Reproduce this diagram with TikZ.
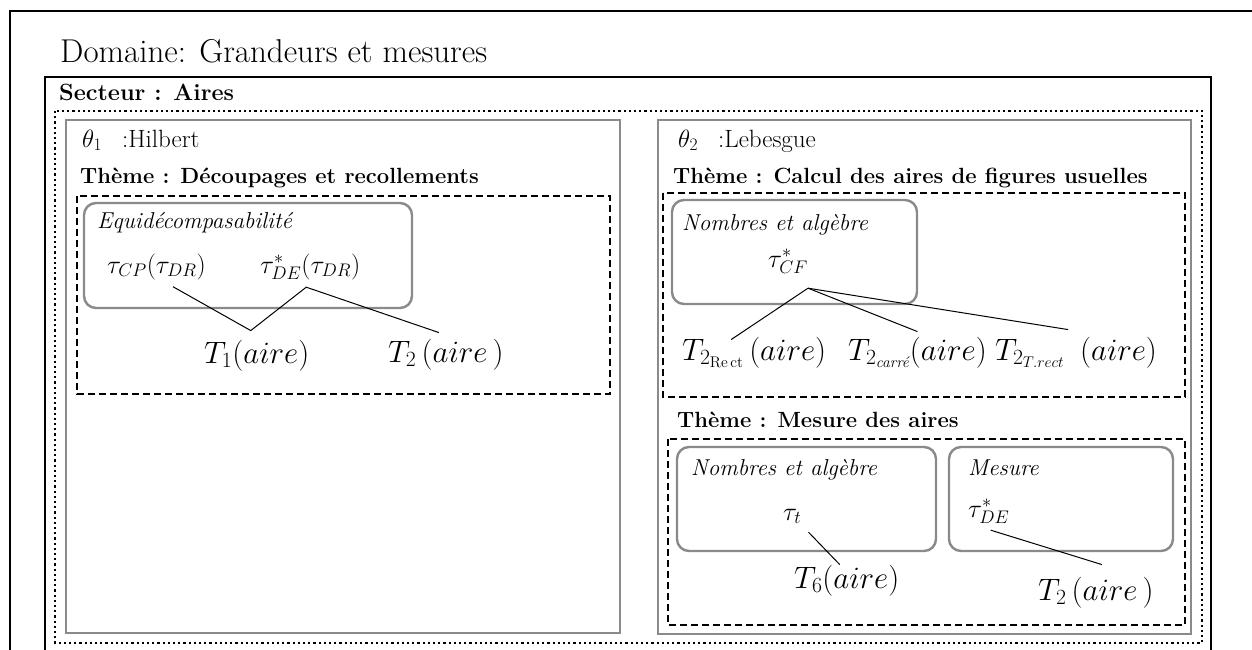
\documentclass[tikz,border=0pt]{standalone}
\usepackage{fix-cm}
\usepackage{amsmath}
\usepackage{xcolor}
\usepackage{tikz}
\definecolor{frameGray}{HTML}{8A8A8A}

\begin{document}
\begin{tikzpicture}[x=1pt, y=-1pt,
    blackFrame/.style={line width=2pt},
    dotFrame/.style={line width=2.2pt, dash pattern=on 2.2pt off 3pt},
    grayPanel/.style={frameGray, line width=2.8pt},
    dashBox/.style={line width=2.4pt, dash pattern=on 7pt off 4pt},
    roundBox/.style={frameGray, line width=2.4pt, rounded corners=12pt},
    lab/.style={inner sep=0pt, anchor=base west},
    titleFont/.style={font=\fontsize{33}{40}\selectfont},
    headFont/.style={font=\bfseries\fontsize{23.5}{28}\selectfont},
    themeFont/.style={font=\bfseries\fontsize{22}{26}\selectfont},
    thetaFont/.style={font=\fontsize{25}{30}\selectfont},
    catFont/.style={font=\itshape\fontsize{23}{27}\selectfont},
    tauFont/.style={font=\fontsize{26}{31}\selectfont},
    bigFont/.style={font=\fontsize{31}{37}\selectfont},
    link/.style={line width=1pt}]

    \clip (0,0) rectangle (1252,650);
    \fill[white] (0,0) rectangle (1252,650);

    % frames
    \draw[blackFrame] (10,11) rectangle (1280,680);
    \draw[blackFrame, line width=2.5pt] (45,77) rectangle (1211,680);
    \draw[dotFrame] (55,111) rectangle (1202,643);
    \draw[grayPanel] (66,120) rectangle (620,633);
    \draw[grayPanel] (658,120) rectangle (1191,634);

    \draw[dashBox] (77,196) rectangle (610,394);
    \draw[dashBox] (663,193) rectangle (1185,397);
    \draw[dashBox] (668,439) rectangle (1185,625);

    \draw[roundBox] (84,203) rectangle (412,308);
    \draw[roundBox] (672,200) rectangle (917,304);
    \draw[roundBox] (677,447) rectangle (936,551);
    \draw[roundBox] (949,447) rectangle (1173,551);

    % headings
    \node[lab, titleFont] (domaine) at (60,63) {Domaine: Grandeurs et mesures};
    \node[lab, headFont] (secteur) at (59,101) {Secteur : Aires};
    \node[lab, thetaFont] (hilbert) at (82,147) {$\theta_1$\hspace{20pt}:Hilbert};
    \node[lab, thetaFont] (lebesgue) at (678,147) {$\theta_2$\hspace{20pt}:Lebesgue};
    \node[lab, themeFont] (themeA) at (80,183) {Thème : Découpages et recollements};
    \node[lab, themeFont] (themeB) at (673,183) {Thème : Calcul des aires de figures usuelles};
    \node[lab, themeFont] (themeC) at (677,427) {Thème : Mesure des aires};

    % left panel
    \node[lab, catFont] (equi) at (97,228) {Equidécompasabilité};
    \node[lab, tauFont] (tcp) at (107,273) {$\tau_{CP}(\tau_{DR})$};
    \node[lab, tauFont] (tde) at (260,273) {$\tau^{*}_{DE}(\tau_{DR})$};
    \node[lab, bigFont] (tA) at (204,363) {$T_1(aire)$};
    \node[lab, bigFont] (tB) at (388,362) {$T_2\,(aire\,)$};

    \draw[link] ([xshift=-33pt,yshift=-7pt]tcp.south east) -- ([xshift=-6pt,yshift=9pt]tA.north)
        -- ([xshift=-4pt,yshift=-7pt]tde.south) -- ([xshift=-7pt,yshift=6pt]tB.north);

    % right panel, first theme
    \node[lab, catFont] (nombresA) at (682,230) {Nombres et algèbre};
    \node[lab, tauFont] (tcf) at (768,267) {$\tau^{*}_{CF}$};
    \node[lab, bigFont] (trect) at (682,360) {$T_{2_{\mathrm{Re\,ct}}}\,(aire)$};
    \node[lab, bigFont] (tcarre) at (848,360) {$T_{2_{\text{\itshape carré}}}(aire)$};
    \node[lab, bigFont] (ttrect) at (995,360) {$T_{2_{T.rect}}\hspace{0.5em}(aire)$};

    \draw[link] ([yshift=-14pt]tcf.south east) -- ([xshift=-23pt,yshift=-3pt]trect.north);
    \draw[link] ([yshift=-14pt]tcf.south east) -- ([yshift=5pt]tcarre.north);
    \draw[link] ([yshift=-14pt]tcf.south east) -- ([xshift=-8pt,yshift=7pt]ttrect.north);

    % right panel, second theme
    \node[lab, catFont] (nombresB) at (691,475) {Nombres et algèbre};
    \node[lab, tauFont] (ttau) at (783,520) {$\tau_t$};
    \node[lab, bigFont] (tsix) at (794,588) {$T_6(aire)$};
    \node[lab, catFont] (mesure) at (968,475) {Mesure};
    \node[lab, tauFont] (tdeB) at (968,517) {$\tau^{*}_{DE}$};
    \node[lab, bigFont] (tC) at (1038,600) {$T_2\,(aire\,)$};

    \draw[link] ([xshift=7pt,yshift=-8pt]ttau.south east) -- ([xshift=-7pt]tsix.north);
    \draw[link] ([xshift=2pt,yshift=-6pt]tdeB.south) -- ([xshift=6pt,yshift=12pt]tC.north);
\end{tikzpicture}
\end{document}
